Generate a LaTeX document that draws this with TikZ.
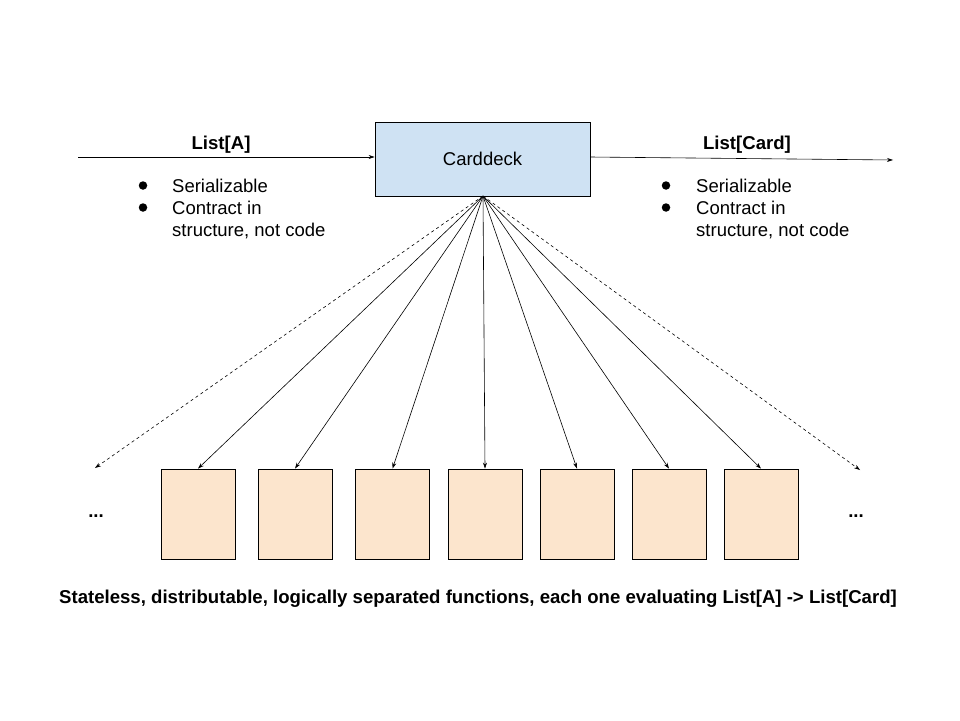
\documentclass[tikz,border=0pt]{standalone}
\usepackage{fontspec}
\setmainfont{Liberation Sans}
\usetikzlibrary{arrows.meta}
\definecolor{deckblue}{HTML}{CFE2F3}
\definecolor{cardorange}{HTML}{FCE5CD}
\begin{document}
\begin{tikzpicture}[x=1pt,y=-1pt,
  conn/.style={-{Stealth[length=6pt,width=4pt]},line width=0.6pt},
  dconn/.style={conn,dashed,dash pattern=on 3pt off 3pt},
  card/.style={draw,line width=0.8pt,fill=cardorange,minimum width=74pt,minimum height=90pt,inner sep=0pt},
  lbl/.style={font=\fontsize{18.6}{22}\selectfont\bfseries,anchor=base,inner sep=0pt},
  bul/.style={font=\fontsize{18.5}{22}\selectfont,anchor=base west,inner sep=0pt},
  dot/.style={circle,fill=black,inner sep=0pt,minimum size=8.5pt}]
\useasboundingbox (0,0) rectangle (960,720);
\node[draw,line width=0.8pt,fill=deckblue,minimum width=215pt,minimum height=74pt,inner sep=0pt,font=\fontsize{18.5}{22}\selectfont] (deck) at (482.5,159) {Carddeck};
\coordinate (apex) at (483,196);
\coordinate (inL) at (78,157);
\coordinate (outR) at (893,160);
\draw[conn] (inL) -- (deck.west |- inL);
\draw[conn] (590,157) coordinate (outS) -- (outR);
\node[lbl] (la) at (221,149) {List[A]};
\node[lbl] (lc) at (747,149) {List[Card]};
% bullets
\foreach \bx/\tx/\n in {143/172/L,666/696/R}{
  \node[dot] (d1\n) at (\bx,185.5) {};
  \node[dot] (d2\n) at (\bx,207.5) {};
  \node[bul] (ta\n) at (\tx,192) {Serializable};
  \node[bul] (tb\n) at (\tx,214) {Contract in};
  \node[bul] (tc\n) at (\tx,236) {structure, not code};
}
% cards
\foreach \i/\x in {1/198,2/295,3/392.5,4/485,5/577,6/669,7/761}{
  \node[card] (c\i) at (\x,514) {};
  \draw[conn] (apex) -- (c\i.north);
}
\coordinate (dl) at (95,468);
\coordinate (dr) at (860,470);
\draw[dconn] (apex) -- (dl);
\draw[dconn] (apex) -- (dr);
\node[lbl] (e1) at (96,517) {...};
\node[lbl] (e2) at (856,517) {...};
\node[lbl] (cap) at (478,603) {Stateless, distributable, logically separated functions, each one evaluating List[A] -> List[Card]};
\end{tikzpicture}
\end{document}
